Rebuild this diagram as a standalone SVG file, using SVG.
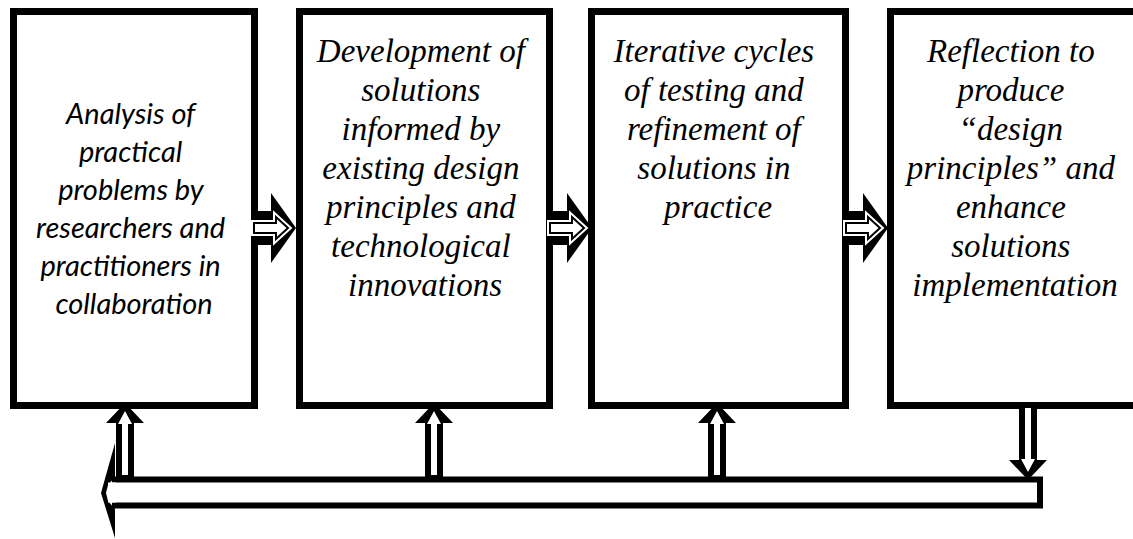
<svg xmlns="http://www.w3.org/2000/svg" width="1133" height="539" viewBox="0 0 1133 539">
  <style>
    .box { fill: #fff; stroke: #000; stroke-width: 7; }
    .sans { font-family: Lato, "Liberation Sans", sans-serif; font-style: italic; font-size: 29px; fill: #000; text-anchor: middle; }
    .serif { font-family: "Liberation Serif", serif; font-style: italic; font-size: 33px; fill: #000; text-anchor: middle; }
    .blk { fill: #000; }
    .halo { fill: none; stroke: #fff; stroke-width: 6; stroke-linejoin: miter; }
    .core { fill: #fff; stroke: #000; stroke-width: 2; stroke-linejoin: miter; }
    .wht { fill: #fff; }
  </style>
  <defs>
    <!-- thick right block arrow with an outlined inner arrow; origin at body start, vertical centre -->
    <g id="rightArrow">
      <polygon class="blk" points="0,-17 15,-17 15,-35 40,0 15,35 15,17 0,17"/>
      <polygon class="halo" points="-2,-5 20,-5 20,-11 32,0 20,11 20,5 -2,5"/>
      <polygon class="core" points="-2,-5 20,-5 20,-11 32,0 20,11 20,5 -2,5"/>
    </g>
    <!-- vertical up arrow; origin at tip -->
    <g id="upArrow">
      <polygon class="blk" points="-9,77 -9,20 -19,20 0,0 19,20 9,20 9,77"/>
      <polygon class="wht" points="-3,72 -3,21 -7,21 0,8 7,21 3,21 3,72"/>
    </g>
  </defs>

  <g id="feedback-bar">
    <path d="M112,479.5 H1040 V505.5 H112" fill="#fff" stroke="#000" stroke-width="6"/>
    <polygon class="blk" points="115,443 101,493 115,538 115,509 108,501 106,493 108,485 115,477"/>
    <rect class="wht" x="108" y="482.5" width="8" height="20"/>
  </g>

  <g id="node-analysis">
    <rect class="box" x="13.5" y="11.5" width="241" height="394"/>
    <text class="sans">
      <tspan x="134" y="124">Analysis of</tspan>
      <tspan x="134" y="162">practical</tspan>
      <tspan x="134" y="200">problems by</tspan>
      <tspan x="134" y="238">researchers and</tspan>
      <tspan x="134" y="276">practitioners in</tspan>
      <tspan x="134" y="314">collaboration</tspan>
    </text>
  </g>

  <g id="node-development">
    <rect class="box" x="299.5" y="11.5" width="250" height="394"/>
    <text class="serif">
      <tspan x="425" y="62">Development of</tspan>
      <tspan x="425" y="101">solutions</tspan>
      <tspan x="425" y="140">informed by</tspan>
      <tspan x="425" y="179">existing design</tspan>
      <tspan x="425" y="218">principles and</tspan>
      <tspan x="425" y="257">technological</tspan>
      <tspan x="425" y="296">innovations</tspan>
    </text>
  </g>

  <g id="node-iteration">
    <rect class="box" x="591.5" y="11.5" width="254" height="394"/>
    <text class="serif">
      <tspan x="718" y="62">Iterative cycles</tspan>
      <tspan x="718" y="101">of testing and</tspan>
      <tspan x="718" y="140">refinement of</tspan>
      <tspan x="718" y="179">solutions in</tspan>
      <tspan x="718" y="218">practice</tspan>
    </text>
  </g>

  <g id="node-reflection">
    <rect class="box" x="890.5" y="11.5" width="300" height="394"/>
    <text class="serif">
      <tspan x="1015" y="62">Reflection to</tspan>
      <tspan x="1015" y="101">produce</tspan>
      <tspan x="1015" y="140">“design</tspan>
      <tspan x="1015" y="179">principles” and</tspan>
      <tspan x="1015" y="218">enhance</tspan>
      <tspan x="1015" y="257">solutions</tspan>
      <tspan x="1015" y="296">implementation</tspan>
    </text>
  </g>

  <g id="connectors">
    <use href="#rightArrow" x="256" y="228"/>
    <use href="#rightArrow" x="552" y="228"/>
    <use href="#rightArrow" x="848" y="228"/>
    <use href="#upArrow" x="125" y="403"/>
    <use href="#upArrow" x="434" y="403"/>
    <use href="#upArrow" x="717" y="403"/>
    <use href="#upArrow" transform="translate(1028,480) scale(1,-1)"/>
  </g>
</svg>
